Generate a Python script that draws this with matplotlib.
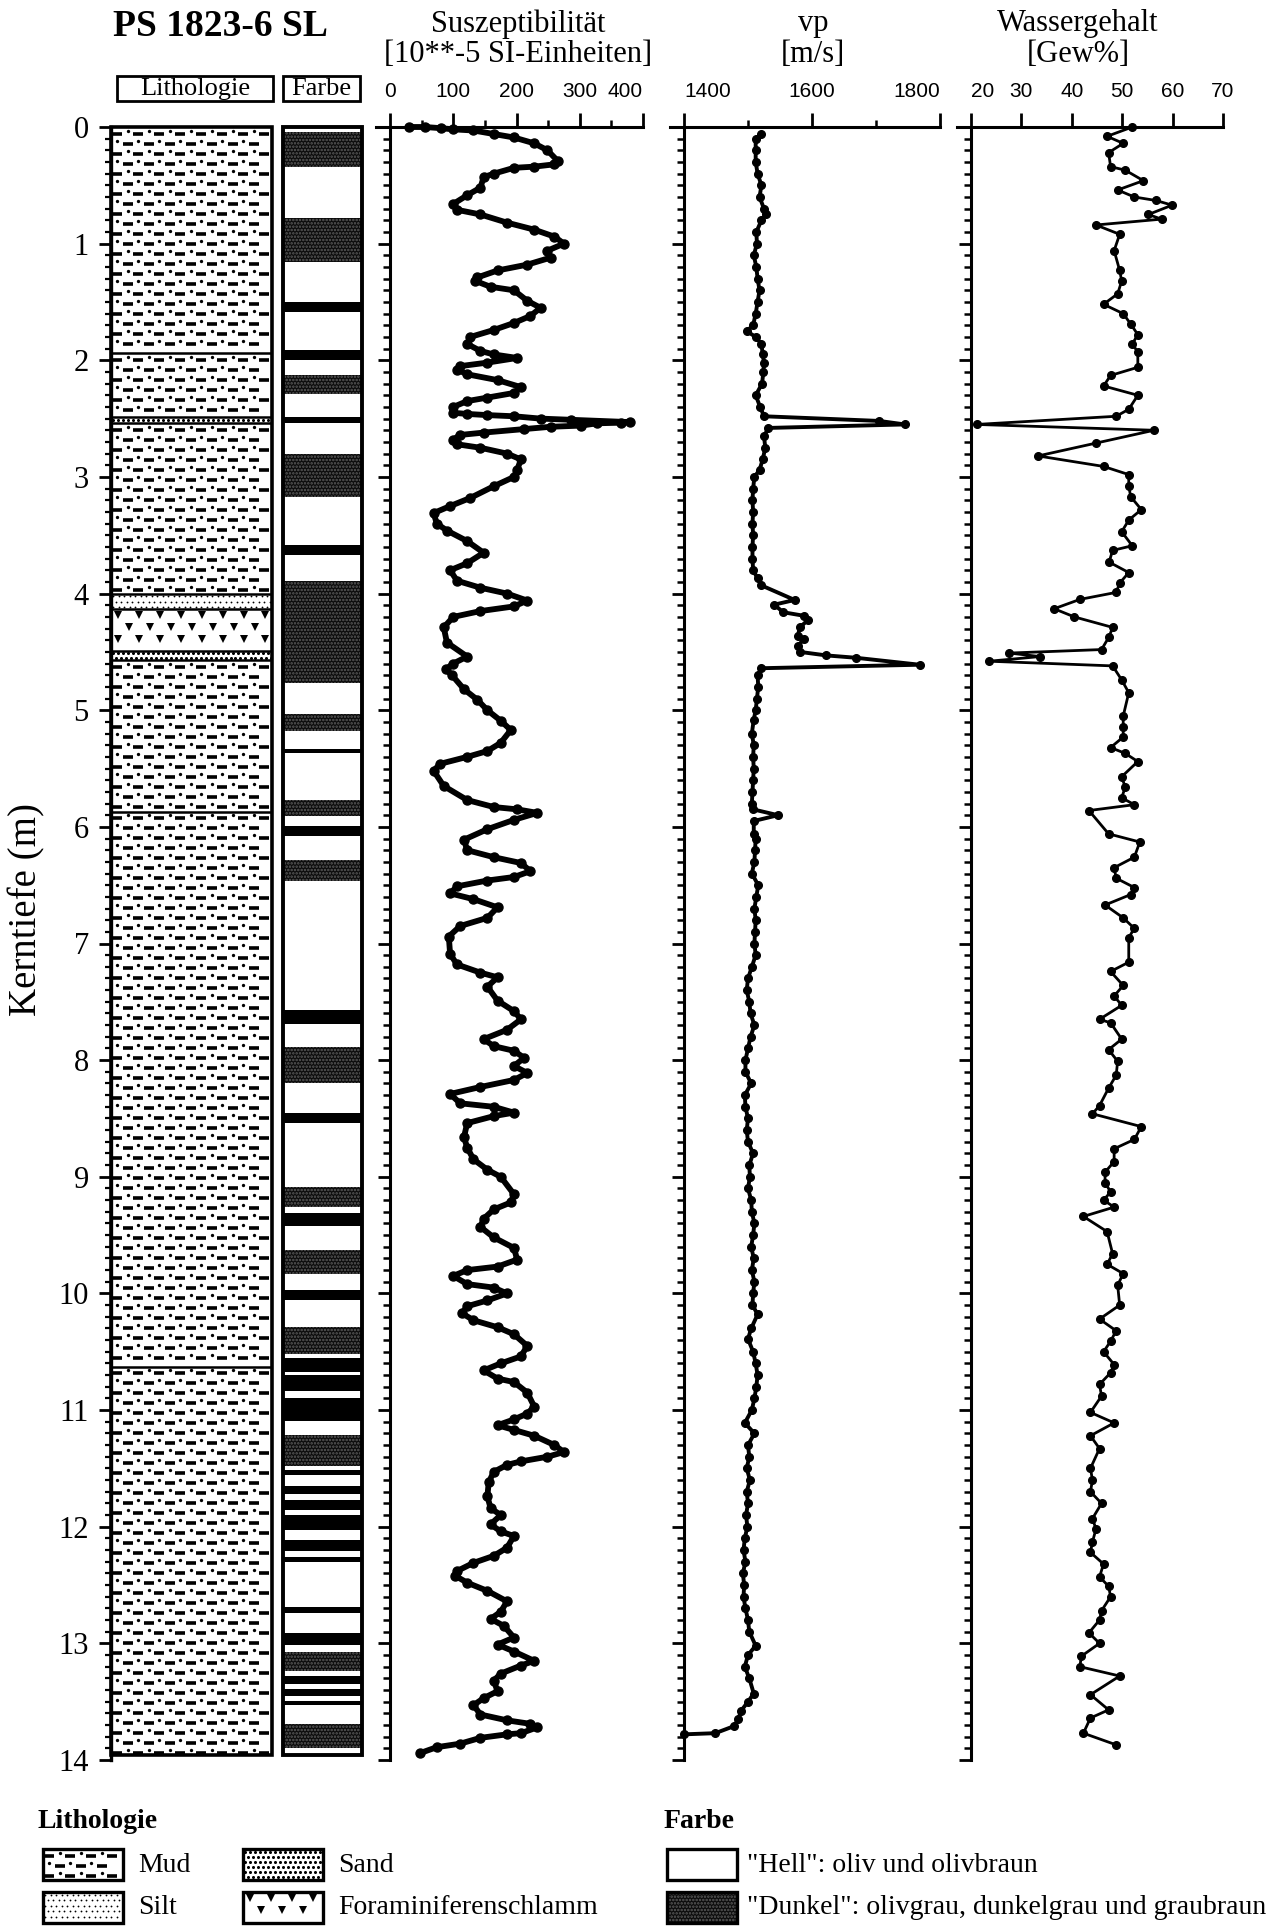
import numpy as np
import matplotlib.pyplot as plt
from matplotlib.patches import Rectangle
from matplotlib.ticker import MultipleLocator

plt.rcParams['font.family'] = ['Liberation Serif', 'DejaVu Serif']
plt.rcParams['hatch.linewidth'] = 1.2

# ---------------- Daten ----------------
kern = "PS 1823-6 SL"

# Lithologie (m)
lith_oben = [0.00, 1.94, 2.49, 2.54, 4.00, 4.13, 4.49, 4.57, 5.87, 10.63]
lith_unten = [1.94, 2.49, 2.54, 4.00, 4.13, 4.49, 4.57, 5.87, 10.63, 13.96]
lith_art = ["Mud", "Mud", "Sand", "Mud", "Silt", "Foram", "Sand", "Mud", "Mud", "Mud"]

# Farbe: dunkle Lagen (m), "d" = gerastert, "b" = schwarz
farbe_oben = [0.04, 0.78, 1.50, 1.91, 2.13, 2.49, 2.80, 3.58, 3.89, 5.03, 5.33, 5.77,
              5.99, 6.28, 7.57, 7.89, 8.45, 9.09, 9.31, 9.63, 9.97, 10.29, 10.55,
              10.70, 10.90, 11.21, 11.51, 11.65, 11.77, 11.90, 12.11, 12.26, 12.69,
              12.91, 13.07, 13.28, 13.39, 13.49, 13.69]
farbe_unten = [0.34, 1.16, 1.59, 2.00, 2.29, 2.54, 3.17, 3.67, 4.77, 5.18, 5.37, 5.91,
               6.08, 6.46, 7.69, 8.20, 8.54, 9.26, 9.42, 9.83, 10.06, 10.52, 10.67,
               10.84, 11.09, 11.48, 11.56, 11.72, 11.86, 12.03, 12.21, 12.30, 12.74,
               13.01, 13.24, 13.35, 13.45, 13.53, 13.90]
farbe_art = ["d", "d", "b", "b", "d", "b", "d", "b", "d", "d", "b", "d",
             "b", "d", "b", "d", "b", "d", "b", "d", "b", "d", "b",
             "b", "b", "d", "b", "b", "b", "b", "b", "b", "b",
             "b", "d", "b", "b", "b", "d"]

# Suszeptibilitaet [10**-5 SI]
sus_tiefe = [0.00, 0.00, 0.01, 0.02, 0.03, 0.06, 0.09, 0.14, 0.20, 0.29, 0.32, 0.34,
             0.35, 0.40, 0.43, 0.52, 0.585, 0.66, 0.71, 0.75, 0.82, 0.88, 0.94, 1.00,
             1.06, 1.12, 1.18, 1.23, 1.29, 1.32, 1.37, 1.40, 1.49, 1.55, 1.62, 1.68,
             1.74, 1.80, 1.86, 1.92, 1.95, 1.98, 2.02, 2.05, 2.08, 2.12, 2.17, 2.23,
             2.28, 2.32, 2.35, 2.40, 2.45, 2.46, 2.47, 2.48, 2.50, 2.51, 2.53, 2.535,
             2.54, 2.56, 2.57, 2.59, 2.62, 2.64, 2.68, 2.72, 2.75, 2.80, 2.85, 2.94,
             3.00, 3.08, 3.18, 3.25, 3.31, 3.40, 3.46, 3.55, 3.65, 3.74, 3.80, 3.89,
             3.95, 4.00, 4.06, 4.11, 4.15, 4.20, 4.29, 4.42, 4.54, 4.60, 4.65, 4.70,
             4.82, 4.91, 5.00, 5.09, 5.17, 5.28, 5.35, 5.40, 5.46, 5.52, 5.65, 5.77,
             5.83, 5.85, 5.88, 5.94, 6.02, 6.11, 6.20, 6.26, 6.31, 6.38, 6.43, 6.46,
             6.51, 6.57, 6.62, 6.69, 6.78, 6.85, 6.94, 7.09, 7.18, 7.25, 7.29, 7.37,
             7.49, 7.58, 7.65, 7.74, 7.82, 7.88, 7.92, 7.98, 8.05, 8.11, 8.17, 8.23,
             8.29, 8.37, 8.40, 8.45, 8.48, 8.54, 8.66, 8.75, 8.85, 8.94, 9.00, 9.15,
             9.22, 9.28, 9.36, 9.43, 9.52, 9.61, 9.71, 9.77, 9.80, 9.85, 9.92, 9.95,
             10.00, 10.06, 10.11, 10.17, 10.23, 10.29, 10.35, 10.45, 10.54, 10.60,
             10.66, 10.73, 10.76, 10.85, 10.97, 11.03, 11.08, 11.13, 11.17, 11.22,
             11.30, 11.36, 11.40, 11.44, 11.47, 11.53, 11.62, 11.74, 11.84, 11.90,
             11.98, 12.04, 12.08, 12.18, 12.25, 12.31, 12.38, 12.42, 12.48, 12.55,
             12.64, 12.73, 12.79, 12.85, 12.95, 13.01, 13.07, 13.15, 13.19, 13.26,
             13.32, 13.41, 13.47, 13.53, 13.61, 13.66, 13.69, 13.72, 13.77, 13.78,
             13.81, 13.86, 13.89, 13.94]
sus_wert = [30, 55, 80, 100, 132, 164, 196, 228, 249, 265, 260, 228,
            196, 164, 148, 143, 122, 100, 106, 143, 185, 228, 260, 275,
            249, 254, 217, 170, 138, 135, 159, 196, 217, 238, 222, 196,
            164, 127, 122, 143, 164, 201, 154, 111, 106, 122, 170, 207,
            196, 154, 122, 100, 100, 122, 154, 196, 238, 286, 379, 366,
            328, 302, 254, 212, 148, 111, 100, 106, 143, 185, 207, 201,
            196, 164, 127, 95, 69, 74, 90, 122, 148, 122, 95, 106,
            143, 185, 217, 196, 143, 100, 85, 90, 122, 100, 88, 98,
            117, 138, 154, 175, 191, 175, 154, 122, 79, 69, 85, 122,
            164, 201, 233, 196, 154, 117, 122, 164, 207, 222, 196, 154,
            106, 95, 132, 170, 154, 111, 93, 95, 106, 143, 170, 154,
            170, 196, 207, 185, 148, 164, 196, 212, 196, 217, 196, 143,
            95, 111, 164, 196, 164, 122, 117, 122, 132, 154, 175, 196,
            191, 164, 148, 143, 164, 196, 201, 170, 122, 100, 122, 164,
            185, 154, 122, 114, 132, 170, 196, 217, 207, 175,
            148, 170, 196, 217, 228, 217, 196, 170, 196, 228,
            260, 275, 249, 207, 185, 164, 156, 154, 159, 175,
            159, 175, 196, 185, 164, 132, 106, 103, 122, 154,
            185, 175, 159, 180, 196, 170, 196, 228, 207, 175,
            164, 170, 148, 132, 143, 185, 222, 233, 207, 185,
            143, 111, 74, 48]

# vp [m/s]
vp_tiefe = [0.06, 0.10, 0.20, 0.30, 0.40, 0.50, 0.60, 0.70, 0.75, 0.80, 0.90, 1.00,
            1.10, 1.20, 1.30, 1.40, 1.50, 1.60, 1.70, 1.75, 1.80, 1.86, 1.95, 2.02,
            2.10, 2.20, 2.30, 2.40, 2.48, 2.52, 2.55, 2.58, 2.65, 2.75, 2.85, 2.94,
            3.00, 3.10, 3.20, 3.30, 3.40, 3.50, 3.60, 3.70, 3.80, 3.87, 3.93, 4.055,
            4.095, 4.16, 4.19, 4.23, 4.29, 4.36, 4.39, 4.45, 4.50, 4.53, 4.55, 4.61,
            4.64, 4.70, 4.80, 4.90, 5.00, 5.08, 5.20, 5.30, 5.40, 5.50, 5.60, 5.70,
            5.80, 5.85, 5.90, 5.95, 6.06, 6.10, 6.20, 6.30, 6.40, 6.50, 6.60, 6.70,
            6.80, 6.90, 7.00, 7.10, 7.20, 7.30, 7.40, 7.50, 7.60, 7.70, 7.80, 7.90,
            8.00, 8.10, 8.20, 8.30, 8.40, 8.50, 8.60, 8.70, 8.80, 8.90, 9.00, 9.10,
            9.20, 9.30, 9.40, 9.50, 9.60, 9.70, 9.80, 9.90, 10.00, 10.10, 10.18,
            10.30, 10.39, 10.50, 10.60, 10.70, 10.80, 10.90, 11.00, 11.11, 11.20,
            11.30, 11.40, 11.50, 11.60, 11.70, 11.80, 11.90, 12.00, 12.10, 12.20,
            12.30, 12.40, 12.50, 12.60, 12.70, 12.80, 12.90, 13.02, 13.10, 13.20,
            13.30, 13.43, 13.50, 13.58, 13.65, 13.71, 13.77, 13.78]
vp_wert = [1521, 1512, 1512, 1512, 1515, 1521, 1518, 1525, 1528, 1521, 1513, 1514,
           1509, 1513, 1515, 1518, 1515, 1512, 1508, 1498, 1512, 1521, 1523, 1525,
           1524, 1522, 1512, 1519, 1525, 1705, 1745, 1532, 1525, 1527, 1523, 1518,
           1510, 1508, 1507, 1508, 1507, 1508, 1507, 1507, 1508, 1515, 1521, 1573,
           1541, 1555, 1587, 1593, 1581, 1578, 1587, 1578, 1581, 1622, 1668, 1768,
           1521, 1515, 1516, 1514, 1512, 1509, 1506, 1509, 1508, 1509, 1508, 1507,
           1506, 1508, 1547, 1509, 1509, 1512, 1511, 1510, 1506, 1516, 1513, 1510,
           1512, 1511, 1510, 1512, 1506, 1500, 1498, 1502, 1504, 1510, 1504, 1500,
           1496, 1496, 1505, 1495, 1496, 1500, 1498, 1500, 1508, 1502, 1503, 1500,
           1505, 1506, 1510, 1508, 1505, 1509, 1506, 1510, 1508, 1507, 1515,
           1505, 1500, 1508, 1512, 1515, 1513, 1510, 1506, 1495, 1510,
           1500, 1502, 1498, 1503, 1498, 1500, 1497, 1499, 1495, 1493,
           1496, 1492, 1494, 1493, 1496, 1500, 1502, 1512, 1500, 1495,
           1502, 1509, 1500, 1489, 1485, 1478, 1449, 1400]

# Wassergehalt [Gew%]
wg_tiefe = [0.00, 0.08, 0.14, 0.22, 0.34, 0.37, 0.46, 0.54, 0.60, 0.63, 0.67, 0.75,
            0.79, 0.84, 0.92, 1.06, 1.23, 1.32, 1.43, 1.52, 1.60, 1.69, 1.78, 1.86,
            1.93, 2.06, 2.13, 2.22, 2.30, 2.42, 2.48, 2.55, 2.60, 2.71, 2.82, 2.91,
            2.98, 3.08, 3.17, 3.28, 3.37, 3.47, 3.59, 3.63, 3.73, 3.82, 3.91, 3.99,
            4.05, 4.13, 4.20, 4.29, 4.37, 4.48, 4.51, 4.54, 4.58, 4.62, 4.74, 4.85,
            5.05, 5.14, 5.23, 5.32, 5.37, 5.44, 5.57, 5.66, 5.75, 5.81, 5.86, 6.06,
            6.13, 6.26, 6.35, 6.44, 6.52, 6.58, 6.67, 6.78, 6.87, 6.95, 7.16, 7.24,
            7.36, 7.45, 7.53, 7.65, 7.68, 7.82, 7.91, 8.01, 8.13, 8.24, 8.39, 8.46,
            8.57, 8.68, 8.76, 8.87, 8.96, 9.05, 9.13, 9.20, 9.26, 9.34, 9.47, 9.66,
            9.75, 9.83, 9.93, 10.10, 10.22, 10.32, 10.41, 10.50, 10.61, 10.68, 10.78,
            10.88, 11.02, 11.11, 11.22, 11.33, 11.50, 11.60, 11.70, 11.80, 11.93,
            12.02, 12.13, 12.22, 12.32, 12.43, 12.51, 12.60, 12.72, 12.80, 12.91,
            13.00, 13.11, 13.20, 13.28, 13.44, 13.57, 13.64, 13.77, 13.87]
wg_wert = [52.0, 47.0, 50.2, 47.3, 47.7, 50.6, 54.2, 49.1, 52.4, 56.7, 59.9, 55.2,
           57.8, 44.8, 49.5, 48.4, 49.5, 49.9, 49.1, 46.3, 50.2, 51.7, 53.1, 52.0,
           53.1, 53.1, 47.7, 46.3, 53.1, 51.3, 48.8, 21.1, 56.3, 44.8, 33.3, 46.3,
           51.3, 51.3, 51.7, 53.8, 51.3, 49.9, 52.0, 48.1, 47.4, 51.3, 49.5, 48.8,
           41.6, 36.5, 40.5, 48.1, 47.4, 45.9, 27.6, 33.7, 23.6, 48.1, 49.9, 51.3,
           50.2, 50.2, 50.2, 47.7, 50.6, 53.1, 49.9, 50.6, 49.9, 52.4, 43.4, 47.3,
           53.5, 52.4, 48.4, 48.8, 52.4, 51.7, 46.6, 50.2, 52.4, 51.3, 51.3, 47.7,
           50.2, 48.4, 49.9, 45.5, 47.7, 49.9, 47.3, 49.1, 48.8, 47.3, 45.5, 44.1,
           53.8, 52.4, 48.4, 48.4, 46.6, 46.6, 47.7, 46.3, 48.4, 42.3, 47.0, 48.1,
           47.0, 50.2, 49.1, 49.5, 45.5, 48.8, 47.7, 46.3, 48.4, 47.7, 45.5,
           45.9, 43.7, 48.4, 43.7, 45.5, 43.7, 44.1, 43.7, 45.9, 44.1,
           44.8, 44.1, 43.7, 46.3, 45.5, 47.3, 47.7, 45.9, 45.5, 43.4,
           45.5, 41.9, 41.6, 49.5, 43.7, 47.3, 43.7, 42.3, 48.8]

# ---------------- Layout ----------------
B, H = 1273, 1927
y0_px, y14_px = 127, 1760
fig = plt.figure(figsize=(B / 100, H / 100), dpi=100)

dunkel_fc, dunkel_hc = "#0c0c0c", "#5c5c5c"


def achse(x0, x1):
    return fig.add_axes([x0 / B, 1 - y14_px / H, (x1 - x0) / B, (y14_px - y0_px) / H])


def fuellen(ax, art, x0, x1, y0, y1, ex, ey):
    # Signatur in ein Rechteck zeichnen, ex/ey = Dateneinheiten pro Pixel
    kw = dict(ls="none", color="k", clip_on=False)
    if art == "Mud":
        sx, sy = 21 * ex, 10 * ey
        px, py, dx, dy = [], [], [], []
        for i, y in enumerate(np.arange(y0 + 0.65 * sy, y1 - 0.1 * sy, sy)):
            xs = np.arange(x0 + (0.3 + 0.5 * (i % 2)) * sx, x1 - 0.25 * sx, sx)
            px += list(xs)
            py += [y] * len(xs)
            xd = xs - 0.5 * sx
            xd = xd[xd > x0 + 0.1 * sx]
            dx += list(xd)
            dy += [y - 0.3 * sy] * len(xd)
        ax.plot(px, py, marker="_", ms=6.5, mew=2.6, **kw)
        ax.plot(dx, dy, marker="o", ms=2.4, mew=0, **kw)
    elif art in ("Sand", "Silt"):
        s = 5 if art == "Sand" else 5.5
        sx, sy = s * ex, s * ey
        px, py = [], []
        for i, y in enumerate(np.arange(y0 + 0.5 * sy, y1 - 0.2 * sy, sy)):
            xs = np.arange(x0 + (0.4 + 0.5 * (i % 2)) * sx, x1 - 0.3 * sx, sx)
            px += list(xs)
            py += [y] * len(xs)
        ax.plot(px, py, marker="o", ms=2.2 if art == "Sand" else 1.3, mew=0, **kw)
    elif art == "Foram":
        sx, sy = 21 * ex, 12 * ey
        px, py = [], []
        for i, y in enumerate(np.arange(y0 + 0.5 * sy, y1 - 0.2 * sy, sy)):
            xs = np.arange(x0 + (0.35 + 0.5 * (i % 2)) * sx, x1 - 0.25 * sx, sx)
            px += list(xs)
            py += [y] * len(xs)
        ax.plot(px, py, marker="v", ms=6, mew=0, **kw)


# Hintergrundachse in Pixeln fuer Kopf und Legende
ov = fig.add_axes([0, 0, 1, 1])
ov.set_xlim(0, B)
ov.set_ylim(H, 0)
ov.axis("off")

fig.text(113 / B, 1 - 26 / H, kern, fontsize=27, fontweight="bold", va="center")
for x, t1, t2 in [(518, "Suszeptibilität", "[10**-5 SI-Einheiten]"),
                  (813, "vp", "[m/s]"), (1078, "Wassergehalt", "[Gew%]")]:
    fig.text(x / B, 1 - 24 / H, t1, fontsize=22, ha="center", va="center")
    fig.text(x / B, 1 - 54 / H, t2, fontsize=22, ha="center", va="center")

for x0, x1, t in [(117, 273, "Lithologie"), (283, 360, "Farbe")]:
    ov.add_patch(Rectangle((x0, 76), x1 - x0, 25, fill=False, lw=2))
    ov.text((x0 + x1) / 2, 89, t, fontsize=19, ha="center", va="center")

# ---------------- Lithologie ----------------
ax_l = achse(111, 272)
ax_l.set_xlim(0, 1)
ax_l.set_ylim(14, 0)
for s in ["top", "right", "bottom"]:
    ax_l.spines[s].set_visible(False)
ax_l.spines["left"].set_linewidth(2.4)
ax_l.set_xticks([])
ax_l.set_yticks(range(15))
ax_l.yaxis.set_minor_locator(MultipleLocator(0.1))
ax_l.tick_params(axis="y", which="major", length=9, width=2, labelsize=22, pad=7)
ax_l.tick_params(axis="y", which="minor", length=4, width=1.6)

ex, ey = 1 / 161, 14 / (y14_px - y0_px)
for o, u, a in zip(lith_oben, lith_unten, lith_art):
    fuellen(ax_l, a, 0, 1, o, u, ex, ey)
ax_l.hlines(lith_oben[1:], 0, 1, color="k", lw=1.8)
ax_l.add_patch(Rectangle((0, 0), 1, lith_unten[-1], fill=False, lw=2.6, clip_on=False))

fig.text(27 / B, 1 - 910 / H, "Kerntiefe (m)", fontsize=28, rotation=90,
         ha="center", va="center")

# ---------------- Farbe ----------------
ax_f = achse(283, 362)
ax_f.set_xlim(0, 1)
ax_f.set_ylim(14, 0)
ax_f.axis("off")
for o, u, a in zip(farbe_oben, farbe_unten, farbe_art):
    if a == "d":
        ax_f.add_patch(Rectangle((0, o), 1, u - o, fc=dunkel_fc, ec=dunkel_hc,
                                 lw=0, hatch="....."))
    else:
        ax_f.add_patch(Rectangle((0, o), 1, u - o, fc="k", lw=0))
ax_f.add_patch(Rectangle((0, 0), 1, lith_unten[-1], fill=False, lw=2.8, clip_on=False))


# ---------------- Kurven ----------------
def kurve(x0, x1, lim, major, minor, tiefe, wert, ms, lw):
    ax = achse(x0, x1)
    ax.set_xlim(*lim)
    ax.set_ylim(14, 0)
    ax.patch.set_visible(False)
    for s in ["right", "bottom"]:
        ax.spines[s].set_visible(False)
    for s in ["left", "top"]:
        ax.spines[s].set_linewidth(2.2)
    ext = 14 * (lim[1] - lim[0]) / (x1 - x0)
    ax.spines["top"].set_bounds(lim[0] - ext, lim[1])
    ax.xaxis.tick_top()
    ax.set_xticks(major)
    ax.set_xticks(minor, minor=True)
    ax.set_yticks(range(15))
    ax.set_yticklabels([])
    ax.yaxis.set_minor_locator(MultipleLocator(0.1))
    ax.tick_params(axis="x", which="major", length=10, width=2, pad=9,
                   labelsize=15, labelfontfamily="Liberation Sans")
    ax.tick_params(axis="x", which="minor", length=5, width=1.8)
    ax.tick_params(axis="y", which="major", length=9, width=2)
    ax.tick_params(axis="y", which="minor", length=5, width=1.8)
    ax.plot(wert, tiefe, color="k", lw=lw, marker="o", ms=ms, clip_on=False)
    return ax


ax_s = kurve(390, 643, (0, 400), [0, 100, 200, 300, 400], [50, 150, 250, 350],
             sus_tiefe, sus_wert, 6.5, 4.2)
ax_v = kurve(684, 940, (1400, 1800), [1400, 1600, 1800], [1500, 1700],
             vp_tiefe, vp_wert, 5.5, 2.8)
ax_w = kurve(971, 1223, (20, 70), [20, 30, 40, 50, 60, 70], [],
             wg_tiefe, wg_wert, 5.5, 2.0)
ax_s.xaxis.get_major_ticks()[-1].label2.set_ha("right")
ax_v.xaxis.get_major_ticks()[0].label2.set_ha("left")
ax_v.xaxis.get_major_ticks()[-1].label2.set_ha("right")
ax_w.xaxis.get_major_ticks()[0].label2.set_ha("left")

# ---------------- Legende ----------------
ov.text(37, 1821, "Lithologie", fontsize=20, fontweight="bold", va="center")
ov.text(664, 1821, "Farbe", fontsize=20, fontweight="bold", va="center")
for x0, y0, art, txt in [(43, 1849, "Mud", "Mud"), (243, 1849, "Sand", "Sand"),
                         (43, 1892, "Silt", "Silt"),
                         (243, 1892, "Foram", "Foraminiferenschlamm")]:
    fuellen(ov, art, x0, x0 + 80, y0, y0 + 31, 1, 1)
    ov.add_patch(Rectangle((x0, y0), 80, 31, fill=False, lw=2.4))
    ov.text(x0 + 95, y0 + 16, txt, fontsize=20, va="center")

ov.add_patch(Rectangle((667, 1849), 70, 31, fc="white", ec="k", lw=2.4))
ov.add_patch(Rectangle((667, 1892), 70, 31, fc=dunkel_fc, ec=dunkel_hc, lw=0,
                       hatch="....."))
ov.add_patch(Rectangle((667, 1892), 70, 31, fill=False, ec="k", lw=2.4))
ov.text(747, 1865, '"Hell": oliv und olivbraun', fontsize=20, va="center")
ov.text(747, 1908, '"Dunkel": olivgrau, dunkelgrau und graubraun', fontsize=20,
        va="center")

fig.savefig("out.png", dpi=100)
